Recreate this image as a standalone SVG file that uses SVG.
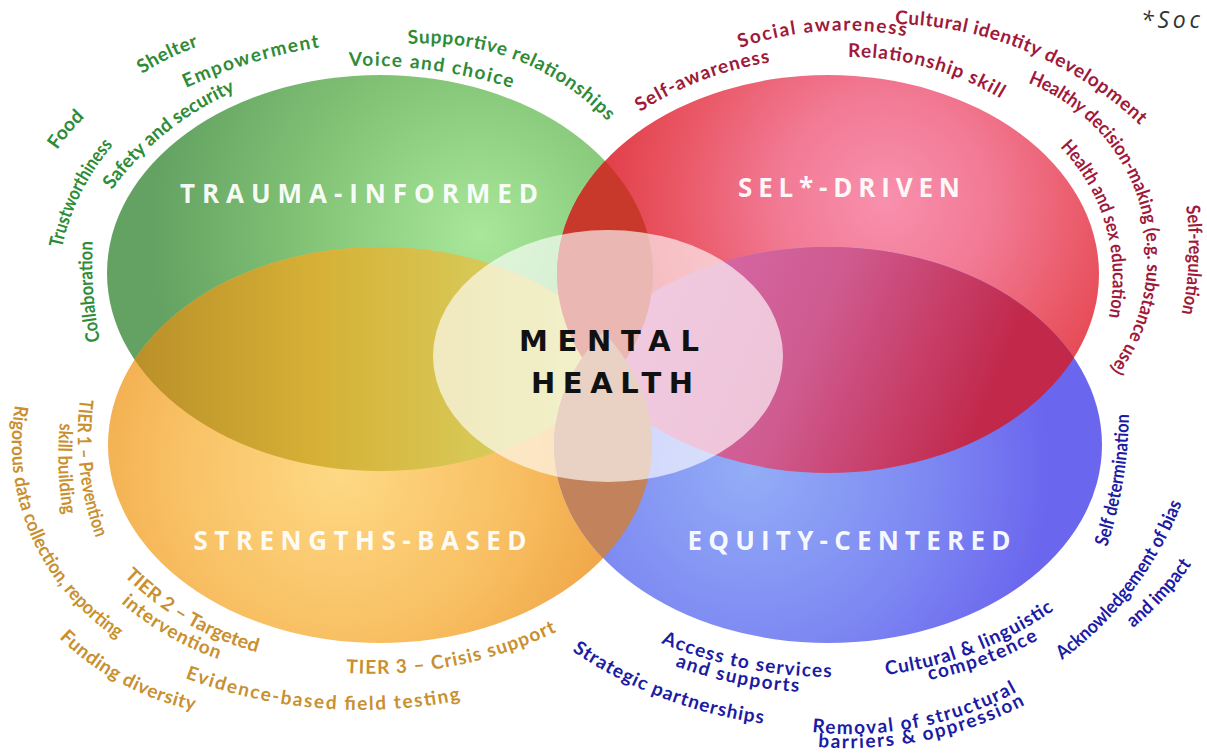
<svg xmlns="http://www.w3.org/2000/svg" width="1207" height="753" viewBox="0 0 1207 753">
<style>
.ct{font-family:Lato,"Open Sans","Liberation Sans",sans-serif;font-weight:700;font-size:19px}
.tg{fill:#2e8b36}.tr{fill:#a0193a}.to{fill:#c99030}.tb{fill:#1b1ba3}
.lbl{font-family:"Open Sans","Liberation Sans",sans-serif;font-weight:700;font-size:26px;fill:#ffffff;fill-opacity:0.96;text-anchor:middle}
.mh{font-family:"DejaVu Sans","Open Sans",sans-serif;font-weight:700;font-size:29px;fill:#111111;text-anchor:middle}
</style>
<defs>
<radialGradient id="fG" gradientUnits="userSpaceOnUse" cx="480" cy="235" r="330">
<stop offset="0" stop-color="#a9e89a"/><stop offset="0.5" stop-color="#84c577"/><stop offset="1" stop-color="#63a262"/></radialGradient>
<radialGradient id="fR" gradientUnits="userSpaceOnUse" cx="885" cy="200" r="300">
<stop offset="0" stop-color="#f890ad"/><stop offset="0.35" stop-color="#f27a95"/><stop offset="0.75" stop-color="#e8525e"/><stop offset="1" stop-color="#e03a44"/></radialGradient>
<radialGradient id="fO" gradientUnits="userSpaceOnUse" cx="340" cy="470" r="290">
<stop offset="0" stop-color="#fed985"/><stop offset="0.6" stop-color="#f8bf62"/><stop offset="1" stop-color="#efa546"/></radialGradient>
<radialGradient id="fB" gradientUnits="userSpaceOnUse" cx="750" cy="470" r="300">
<stop offset="0" stop-color="#93adf6"/><stop offset="0.6" stop-color="#7d88f2"/><stop offset="1" stop-color="#6b66ee"/></radialGradient>
<linearGradient id="fGO" gradientUnits="userSpaceOnUse" x1="120" y1="0" x2="560" y2="0">
<stop offset="0" stop-color="#b88d28"/><stop offset="0.45" stop-color="#d6b136"/><stop offset="1" stop-color="#d8d466"/></linearGradient>
<linearGradient id="fRB" gradientUnits="userSpaceOnUse" x1="660" y1="300" x2="980" y2="430">
<stop offset="0" stop-color="#d66aa8"/><stop offset="0.45" stop-color="#cf5b90"/><stop offset="1" stop-color="#c1284a"/></linearGradient>
<clipPath id="cG"><ellipse cx="380" cy="273" rx="273" ry="198"/></clipPath>
<clipPath id="cR"><ellipse cx="828" cy="274" rx="271" ry="199"/></clipPath>
<clipPath id="cO"><ellipse cx="380" cy="445" rx="272" ry="198"/></clipPath>
<path id="g1" d="M100,341 A400,400 0 0 1 93,238"/>
<path id="g2" d="M62,248 A230,230 0 0 1 115,143"/>
<path id="g3" d="M57,150 A200,200 0 0 1 86,116"/>
<path id="g4" d="M142,74 A250,250 0 0 1 200,46"/>
<path id="g5" d="M186,88 A500,500 0 0 1 322,47"/>
<path id="g6" d="M112,190 A300,300 0 0 1 238,90"/>
<path id="g7" d="M349,66 A500,500 0 0 1 515,89"/>
<path id="g8" d="M408,44 A250,250 0 0 1 610,124"/>
<path id="r1" d="M640,112 A330,330 0 0 1 773,62"/>
<path id="r2" d="M740,48 A320,320 0 0 1 909,37"/>
<path id="r3" d="M848,57 A295,295 0 0 1 1003,100"/>
<path id="r4" d="M895,24 A365,365 0 0 1 1143,128"/>
<path id="r5" d="M1028,83 A187,187 0 0 1 1108,372"/>
<path id="r6" d="M1060,147 A188,188 0 0 1 1108,320"/>
<path id="r7" d="M1186,206 A300,300 0 0 1 1181,316"/>
<path id="o1" d="M80,399 A300,300 0 0 0 97,541"/>
<path id="o2" d="M60,423 A320,320 0 0 0 64,517"/>
<path id="o3" d="M15,405 A233,233 0 0 0 121,641"/>
<path id="o4" d="M124,576 A300,300 0 0 0 260,653"/>
<path id="o5" d="M121,603 A300,300 0 0 0 221,660"/>
<path id="o6" d="M59,638 A280,280 0 0 0 197,711"/>
<path id="o7" d="M185,678 A500,500 0 0 0 465,699"/>
<path id="o8" d="M346,673 A420,420 0 0 0 560,630"/>
<path id="b1" d="M572,651 A450,450 0 0 0 766,724"/>
<path id="b2" d="M661,643 A450,450 0 0 0 835,677"/>
<path id="b3" d="M675,666 A420,420 0 0 0 802,692"/>
<path id="b4" d="M812,732 A350,350 0 0 0 1020,690"/>
<path id="b5" d="M818,747 A380,380 0 0 0 1028,703"/>
<path id="b6" d="M886,675 A380,380 0 0 0 1057,608"/>
<path id="b7" d="M929,680 A350,350 0 0 0 1041,638"/>
<path id="b8" d="M1062,660 A350,350 0 0 0 1183,500"/>
<path id="b9" d="M1133,628 A300,300 0 0 0 1193,562"/>
<path id="b10" d="M1107,547 A450,450 0 0 0 1129,410"/>
</defs>
<rect width="1207" height="753" fill="#ffffff"/>

<g id="trauma-informed">
<ellipse cx="380" cy="273" rx="273" ry="198" fill="url(#fG)"/>
<g class="ct tg">
<text><textPath href="#g1" textLength="100" lengthAdjust="spacingAndGlyphs">Collaboration</textPath></text>
<text><textPath href="#g2" textLength="116" lengthAdjust="spacingAndGlyphs">Trustworthiness</textPath></text>
<text><textPath href="#g3" textLength="43" lengthAdjust="spacingAndGlyphs">Food</textPath></text>
<text><textPath href="#g4" textLength="63" lengthAdjust="spacing">Shelter</textPath></text>
<text><textPath href="#g5" textLength="140" lengthAdjust="spacing">Empowerment</textPath></text>
<text><textPath href="#g6" textLength="160" lengthAdjust="spacingAndGlyphs">Safety and security</textPath></text>
<text><textPath href="#g7" textLength="165" lengthAdjust="spacing">Voice and choice</textPath></text>
<text><textPath href="#g8" textLength="221" lengthAdjust="spacing">Supportive relationships</textPath></text>
</g>
</g>

<g id="sel-driven">
<ellipse cx="828" cy="274" rx="271" ry="199" fill="url(#fR)"/>
<g class="ct tr">
<text><textPath href="#r1" textLength="140" lengthAdjust="spacing">Self-awareness</textPath></text>
<text><textPath href="#r2" textLength="168" lengthAdjust="spacing">Social awareness</textPath></text>
<text><textPath href="#r3" textLength="160" lengthAdjust="spacing">Relationship skill</textPath></text>
<text><textPath href="#r4" textLength="271" lengthAdjust="spacing">Cultural identity development</textPath></text>
<text><textPath href="#r5" textLength="344" lengthAdjust="spacingAndGlyphs">Healthy decision-making (e.g. substance use)</textPath></text>
<text><textPath href="#r6" textLength="184" lengthAdjust="spacingAndGlyphs">Health and sex education</textPath></text>
<text><textPath href="#r7" textLength="108" lengthAdjust="spacingAndGlyphs">Self-regulation</textPath></text>
</g>
</g>

<g id="strengths-based">
<ellipse cx="380" cy="445" rx="272" ry="198" fill="url(#fO)"/>
<g class="ct to">
<text><textPath href="#o1" textLength="141" lengthAdjust="spacingAndGlyphs">TIER 1 – Prevention</textPath></text>
<text><textPath href="#o2" textLength="92" lengthAdjust="spacingAndGlyphs">skill building</textPath></text>
<text><textPath href="#o3" textLength="270" lengthAdjust="spacingAndGlyphs">Rigorous data collection, reporting</textPath></text>
<text><textPath href="#o4" textLength="155" lengthAdjust="spacingAndGlyphs">TIER 2 – Targeted</textPath></text>
<text><textPath href="#o5" textLength="113" lengthAdjust="spacing">intervention</textPath></text>
<text><textPath href="#o6" textLength="155" lengthAdjust="spacing">Funding diversity</textPath></text>
<text><textPath href="#o7" textLength="280" lengthAdjust="spacing">Evidence-based field testing</textPath></text>
<text><textPath href="#o8" textLength="217" lengthAdjust="spacing">TIER 3 – Crisis support</textPath></text>
</g>
</g>

<g id="equity-centered">
<ellipse cx="828" cy="445" rx="274" ry="198" fill="url(#fB)"/>
<g class="ct tb">
<text><textPath href="#b1" textLength="206" lengthAdjust="spacing">Strategic partnerships</textPath></text>
<text><textPath href="#b2" textLength="175" lengthAdjust="spacing">Access to services</textPath></text>
<text><textPath href="#b3" textLength="127" lengthAdjust="spacing">and supports</textPath></text>
<text><textPath href="#b4" textLength="212" lengthAdjust="spacing">Removal of structural</textPath></text>
<text><textPath href="#b5" textLength="214" lengthAdjust="spacing">barriers &amp; oppression</textPath></text>
<text><textPath href="#b6" textLength="182" lengthAdjust="spacing">Cultural &amp; linguistic</textPath></text>
<text><textPath href="#b7" textLength="117" lengthAdjust="spacing">competence</textPath></text>
<text><textPath href="#b8" textLength="200" lengthAdjust="spacingAndGlyphs">Acknowledgement of bias</textPath></text>
<text><textPath href="#b9" textLength="87" lengthAdjust="spacingAndGlyphs">and impact</textPath></text>
<text><textPath href="#b10" textLength="135" lengthAdjust="spacingAndGlyphs">Self determination</textPath></text>
</g>
</g>

<g id="overlaps">
<g clip-path="url(#cG)"><ellipse cx="380" cy="445" rx="272" ry="198" fill="url(#fGO)"/></g>
<g clip-path="url(#cR)"><ellipse cx="828" cy="445" rx="274" ry="198" fill="url(#fRB)"/></g>
<g clip-path="url(#cG)"><ellipse cx="828" cy="274" rx="271" ry="199" fill="#c8392b"/></g>
<g clip-path="url(#cO)"><ellipse cx="828" cy="445" rx="274" ry="198" fill="#c2825b"/></g>
</g>

<g id="labels">
<text class="lbl" x="359" y="203" textLength="358" lengthAdjust="spacing">TRAUMA-INFORMED</text>
<text class="lbl" x="849" y="197" textLength="222" lengthAdjust="spacing">SEL*-DRIVEN</text>
<text class="lbl" x="360" y="550" textLength="333" lengthAdjust="spacing">STRENGTHS-BASED</text>
<text class="lbl" x="849" y="550" textLength="323" lengthAdjust="spacing">EQUITY-CENTERED</text>
</g>

<g id="mental-health">
<ellipse cx="608" cy="356" rx="175" ry="126" fill="#ffffff" fill-opacity="0.64"/>
<text class="mh" x="609" y="351" textLength="180" lengthAdjust="spacing">MENTAL</text>
<text class="mh" x="612" y="393" textLength="162" lengthAdjust="spacing">HEALTH</text>
</g>

<g id="footnote">
<text x="1141" y="28" font-family="'Open Sans','Liberation Sans',sans-serif" font-style="italic" font-size="23" fill="#333333" textLength="59" lengthAdjust="spacing">*Soc</text>
</g>
<g id="connectors"/>
</svg>
